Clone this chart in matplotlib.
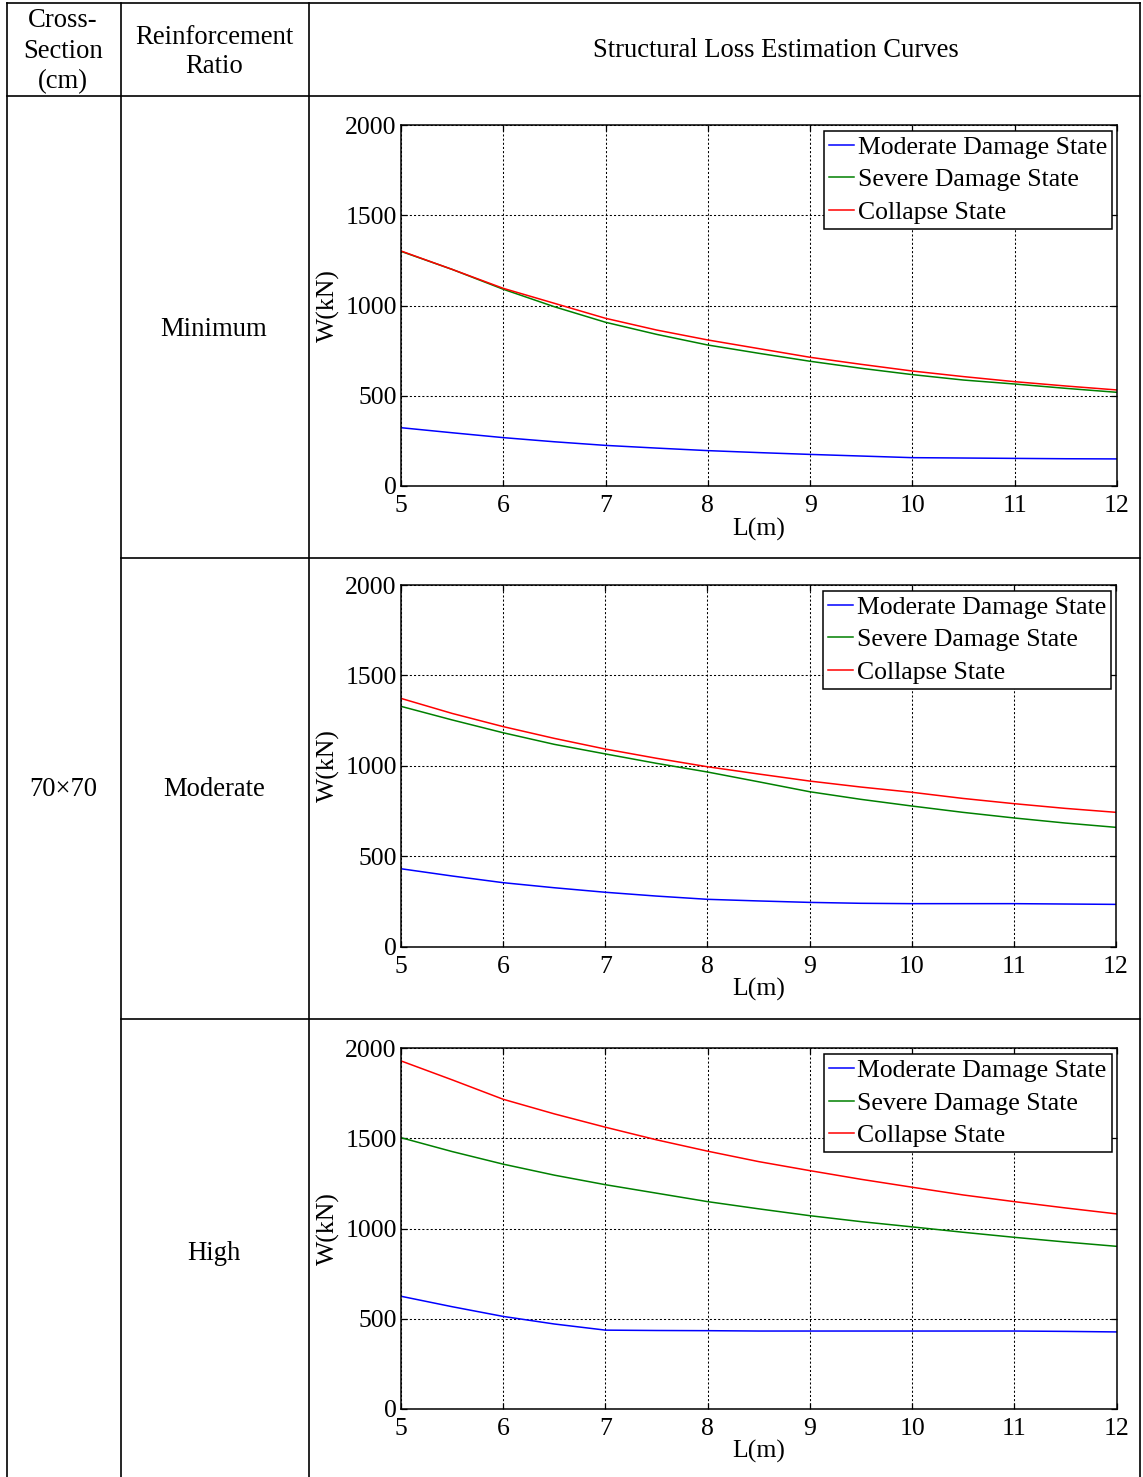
import matplotlib
matplotlib.use("Agg")
import matplotlib.pyplot as plt
from matplotlib.lines import Line2D

plt.rcParams['font.family'] = ['Liberation Serif', 'DejaVu Serif']

W_PX, H_PX = 1143, 1477

# Span lengths (m)
span = [5, 5.5, 6, 6.5, 7, 7.5, 8, 8.5, 9, 9.5, 10, 10.5, 11, 11.5, 12]

# Minimum reinforcement ratio, W (kN)
moderate_min = [323, 295, 268, 245, 225, 210, 196, 185, 175, 166, 157, 155, 153, 151, 150]
severe_min = [1300, 1200, 1090, 993, 907, 840, 781, 735, 691, 652, 617, 587, 565, 541, 519]
collapse_min = [1302, 1200, 1095, 1012, 929, 864, 809, 761, 713, 674, 637, 606, 578, 554, 532]

# Moderate reinforcement ratio, W (kN)
moderate_mod = [431, 391, 354, 326, 301, 280, 262, 253, 245, 240, 238, 238, 238, 236, 234]
severe_mod = [1329, 1254, 1183, 1119, 1066, 1014, 966, 912, 857, 815, 778, 743, 712, 684, 660]
collapse_mod = [1373, 1290, 1217, 1152, 1093, 1042, 995, 955, 916, 883, 854, 820, 791, 765, 743]

# High reinforcement ratio, W (kN)
moderate_high = [624, 566, 512, 470, 436, 434, 433, 431, 431, 431, 431, 431, 431, 429, 426]
severe_high = [1504, 1427, 1357, 1296, 1243, 1196, 1149, 1109, 1071, 1038, 1009, 979, 951, 925, 901]
collapse_high = [1930, 1825, 1717, 1636, 1562, 1492, 1429, 1371, 1321, 1273, 1229, 1186, 1149, 1114, 1081]

state_labels = ["Moderate Damage State", "Severe Damage State", "Collapse State"]
state_colors = ["#0000ff", "#008000", "#ff0000"]
ratio_labels = ["Minimum", "Moderate", "High"]
section_label = "70\u00d770"
x_ticks = [5, 6, 7, 8, 9, 10, 11, 12]
y_ticks = [0, 500, 1000, 1500, 2000]

panels = [
    (moderate_min, severe_min, collapse_min),
    (moderate_mod, severe_mod, collapse_mod),
    (moderate_high, severe_high, collapse_high),
]

FS = 18.5       # axis text and legend
FS_TAB = 19.2   # table text

fig = plt.figure(figsize=(W_PX / 100, H_PX / 100), dpi=100)


def fx(x):
    return x / W_PX


def fy(y):
    return 1 - y / H_PX


def hline(y, x0, x1):
    fig.add_artist(Line2D([fx(x0), fx(x1)], [fy(y), fy(y)], transform=fig.transFigure,
                          color="black", lw=1.2, solid_capstyle="projecting"))


def vline(x, y0, y1):
    fig.add_artist(Line2D([fx(x), fx(x)], [fy(y0), fy(y1)], transform=fig.transFigure,
                          color="black", lw=1.2, solid_capstyle="projecting"))


# table rules
hline(3, 7, 1140)
hline(96, 7, 1140)
hline(557.5, 121, 1140)
hline(1019, 121, 1140)
for xv in (7, 121, 309, 1140):
    vline(xv, 3, 1480)


def ftext(x, y, s, size=FS_TAB, **kw):
    fig.text(fx(x), fy(y), s, fontsize=size, **kw)


# header
ftext(63, 27, "Cross-", ha="center", va="baseline")
ftext(63, 57.5, "Section", ha="center", va="baseline")
ftext(63, 88, "(cm)", ha="center", va="baseline")
ftext(214, 44, "Reinforcement", ha="center", va="baseline")
ftext(214, 73, "Ratio", ha="center", va="baseline")
ftext(776, 57, "Structural Loss Estimation Curves", ha="center", va="baseline")

# row labels
ftext(63, 790, section_label, ha="center", va="center")
for label, yc in zip(ratio_labels, (329, 790, 1253)):
    ftext(214, yc, label, ha="center", va="center")

# axes boxes (left, top, right, bottom) in pixels
boxes = [(401, 125, 1117, 486), (401, 585, 1116, 946.7), (401, 1048.3, 1116.7, 1408.7)]

for (left, top, right, bottom), series in zip(boxes, panels):
    ax = fig.add_axes([fx(left), fy(bottom), (right - left) / W_PX, (bottom - top) / H_PX])
    for vals, lab, col in zip(series, state_labels, state_colors):
        ax.plot(span, vals, color=col, lw=1.1, label=lab)
    ax.set_xlim(5, 12)
    ax.set_ylim(0, 2000)
    ax.set_xticks(x_ticks)
    ax.set_yticks(y_ticks)
    ax.grid(True, color="black", linestyle=(0, (2, 2)), lw=0.75)
    ax.tick_params(direction="in", length=4.5, width=0.9, top=True, right=True,
                   labelsize=FS)
    ax.tick_params(axis="x", pad=6.5)
    ax.tick_params(axis="y", pad=3)
    for sp in ax.spines.values():
        sp.set_linewidth(1.1)
    # legend box inset 5 px from the right spine and 6 px from the top spine
    anchor = (1 - 5 / (right - left), 1 - 6 / (bottom - top))
    leg = ax.legend(loc="upper right", bbox_to_anchor=anchor, bbox_transform=ax.transAxes,
                    fontsize=FS, frameon=True, fancybox=False,
                    borderaxespad=0, borderpad=0.2, labelspacing=0.36,
                    handlelength=0.97, handletextpad=0.13)
    leg.get_frame().set_edgecolor("black")
    leg.get_frame().set_linewidth(1.1)
    leg.get_frame().set_alpha(1)
    ftext(328, (top + bottom) / 2, "W(kN)", size=FS, ha="center", va="center", rotation=90)
    ftext((left + right) / 2, bottom + 43, "L(m)", size=FS, ha="center", va="center")

fig.savefig("out.png", dpi=100)
